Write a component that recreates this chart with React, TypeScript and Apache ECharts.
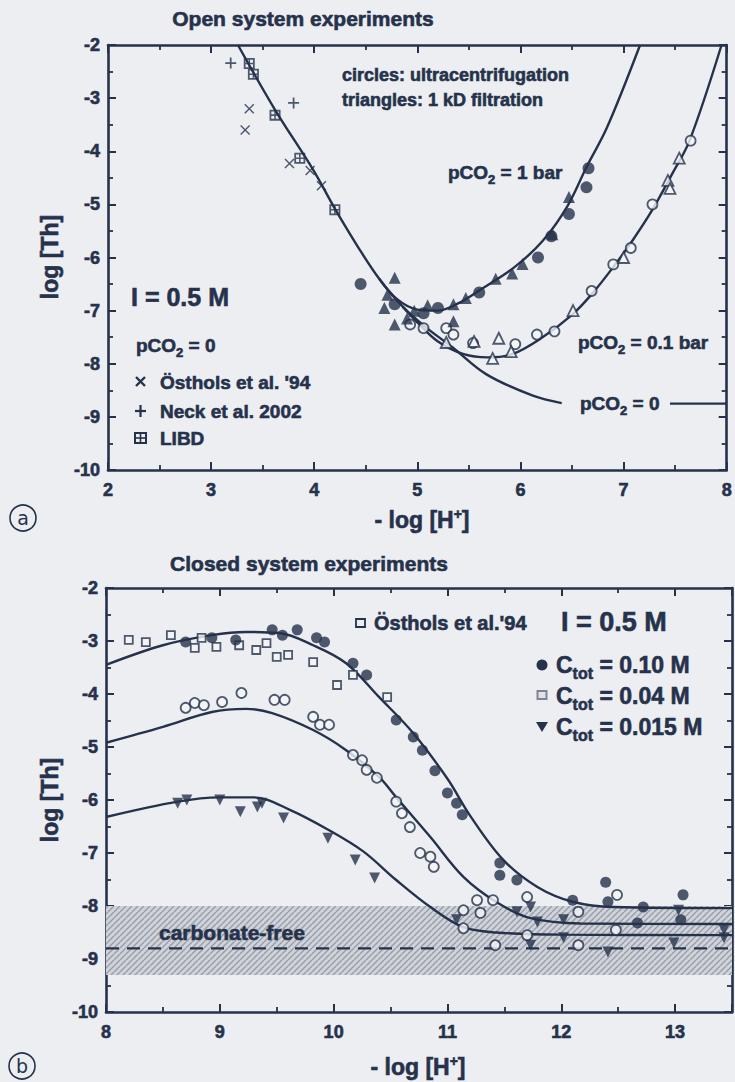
import React, { useEffect, useRef } from 'react';
import * as echarts from 'echarts';

const INK = '#26324c';
const BG = '#eceef1';
const FONT = '"Liberation Sans", Arial, Helvetica, sans-serif';

// ---------- Panel (a): open system ----------
const aXRange = [2, 8];
const aYRange = [-10, -2];
const aCurvePco2Zero = [[3.26, -2], [3.62, -3.22], [3.99, -4.35], [4.2, -5.08], [4.44, -5.85], [4.63, -6.4], [4.86, -6.93], [5.08, -7.31], [5.34, -7.69], [5.67, -8.2], [6.12, -8.6], [6.4, -8.74]];
const aCurvePco2ZeroTail = [[7.45, -8.75], [8, -8.75]];
const aCurvePco2Tenth = [[4.86, -6.93], [5.0, -7.22], [5.2, -7.58], [5.45, -7.82], [5.68, -7.88], [5.92, -7.82], [6.2, -7.52], [6.5, -7.08], [6.7, -6.67], [6.9, -6.18], [7.09, -5.67], [7.28, -5.1], [7.47, -4.43], [7.64, -3.8], [7.95, -2]];
const aCurvePco2One = [[4.63, -6.4], [4.8, -6.78], [5.0, -6.98], [5.2, -7.0], [5.4, -6.86], [5.6, -6.62], [5.93, -6.2], [6.21, -5.7], [6.45, -5.05], [6.64, -4.3], [6.84, -3.55], [7.16, -2]];
const aOstholsX = [[3.37, -3.2], [3.33, -3.6], [3.76, -4.23], [3.96, -4.36], [4.07, -4.65]];
const aNeckPlus = [[3.19, -2.34], [3.8, -3.09]];
const aLibdBox = [[3.37, -2.35], [3.41, -2.55], [3.62, -3.32], [3.86, -4.13], [4.2, -5.1]];
const aOneBarCircles = [[4.45, -6.5], [6.66, -4.32], [6.64, -4.68], [6.47, -5.18], [6.17, -6.0], [5.6, -6.66], [5.2, -6.95], [4.78, -6.88], [5.06, -7.05], [6.3, -5.6]];
const aOneBarTriangles = [[6.47, -4.86], [6.31, -5.56], [6.02, -6.12], [5.92, -6.3], [5.76, -6.4], [5.47, -6.76], [5.35, -6.88], [4.71, -6.7], [4.78, -6.38], [4.68, -6.95], [4.78, -7.26], [5.35, -7.2], [4.97, -7.0], [5.1, -6.9], [4.9, -7.15]];
const aTenthBarCircles = [[7.65, -3.8], [7.28, -5.0], [7.07, -5.82], [6.9, -6.13], [6.69, -6.63], [6.33, -7.39], [5.95, -7.63], [5.54, -7.61], [5.06, -7.33], [4.93, -7.26], [5.28, -7.33], [6.16, -7.45], [5.35, -7.45]];
const aTenthBarTriangles = [[7.54, -4.13], [7.43, -4.55], [7.45, -4.7], [7.0, -6.0], [6.51, -7.0], [5.79, -7.52], [5.55, -7.58], [5.73, -7.9], [5.91, -7.77], [5.28, -7.6]];

// ---------- Panel (b): closed system ----------
const bXRange = [8, 13.5];
const bYRange = [-10, -2];
const bCurve010 = [[8, -3.45], [8.5, -3.08], [8.93, -2.89], [9.23, -2.83], [9.52, -2.85], [9.82, -3.08], [10.11, -3.42], [10.4, -4.06], [10.7, -4.74], [11.0, -5.6], [11.2, -6.3], [11.49, -7.13], [11.79, -7.64], [12.1, -7.92], [12.46, -8.02], [13.5, -8.04]];
const bCurve004 = [[8, -4.92], [8.5, -4.62], [8.93, -4.34], [9.23, -4.28], [9.46, -4.36], [9.82, -4.68], [10.11, -5.06], [10.4, -5.57], [10.55, -5.95], [10.85, -6.7], [11.14, -7.45], [11.44, -7.94], [11.73, -8.23], [12.17, -8.33], [13.5, -8.34]];
const bCurve0015 = [[8, -6.32], [8.63, -6.03], [9.0, -5.95], [9.3, -5.95], [9.62, -6.19], [9.96, -6.57], [10.26, -6.97], [10.55, -7.51], [10.85, -8.02], [11.14, -8.4], [11.43, -8.5], [12.0, -8.54], [13.5, -8.55]];
const bCarbonateFreeLevel = -8.8;
const bCarbonateFreeBand = [-8.0, -9.3];
const bOstholsSquares = [[8.2, -2.98], [8.35, -3.02], [8.57, -2.89], [8.78, -3.13], [8.84, -2.94], [8.97, -3.11], [9.17, -3.08], [9.32, -3.17], [9.41, -3.04], [9.5, -3.3], [9.6, -3.26], [9.82, -3.4], [10.03, -3.83], [10.17, -3.64], [10.47, -4.06]];
const bCtot010 = [[8.7, -3.02], [8.93, -2.94], [9.14, -2.98], [9.46, -2.79], [9.55, -2.89], [9.68, -2.79], [9.85, -2.94], [9.92, -3.02], [10.17, -3.42], [10.29, -3.64], [10.55, -4.49], [10.7, -4.81], [10.78, -5.06], [10.89, -5.45], [11.0, -5.87], [11.08, -6.06], [11.13, -6.28], [11.46, -7.19], [11.46, -7.42], [11.61, -7.51], [12.1, -7.89], [12.39, -7.55], [12.41, -7.92], [12.72, -8.02], [12.67, -8.32], [13.07, -7.79], [13.05, -8.26]];
const bCtot004 = [[8.7, -4.26], [8.78, -4.17], [8.86, -4.21], [9.02, -4.15], [9.19, -3.98], [9.48, -4.11], [9.57, -4.11], [9.82, -4.43], [9.88, -4.58], [9.96, -4.58], [10.17, -5.15], [10.25, -5.25], [10.29, -5.43], [10.38, -5.58], [10.55, -6.03], [10.6, -6.25], [10.67, -6.51], [10.76, -7.0], [10.85, -7.07], [10.88, -7.26], [11.14, -8.08], [11.26, -7.89], [11.29, -8.13], [11.4, -7.89], [11.7, -7.83], [11.42, -8.74], [11.7, -8.55], [12.15, -8.11], [12.15, -8.74], [12.49, -7.79], [12.48, -8.45], [11.14, -8.42]];
const bCtot0015 = [[8.63, -6.06], [8.71, -6.0], [9.0, -6.0], [9.18, -6.22], [9.33, -6.13], [9.37, -6.06], [9.56, -6.34], [9.95, -6.72], [10.19, -7.13], [10.36, -7.47], [11.08, -8.26], [11.73, -8.02], [11.61, -8.11], [11.79, -8.3], [11.73, -8.74], [12.02, -8.26], [12.02, -8.6], [12.41, -8.87], [13.03, -8.08], [12.99, -8.7], [13.43, -8.45], [13.43, -8.6]];

const SYM_X = 'path://M1,0L5,4L9,0L10,1L6,5L10,9L9,10L5,6L1,10L0,9L4,5L0,1Z';
const SYM_PLUS = 'path://M4.2,0H5.8V4.2H10V5.8H5.8V10H4.2V5.8H0V4.2H4.2Z';
const SYM_BOX = 'path://M0,0H10V10H0Z M1.6,1.6V4.3H4.3V1.6Z M5.7,1.6V4.3H8.4V1.6Z M1.6,5.7V8.4H4.3V5.7Z M5.7,5.7V8.4H8.4V5.7Z';
const SYM_DOWN = 'path://M0,0H10L5,9Z';

function makeHatch(): HTMLCanvasElement {
  const c = document.createElement('canvas');
  c.width = 6; c.height = 6;
  const ctx = c.getContext('2d')!;
  ctx.fillStyle = '#d0d3d9';
  ctx.fillRect(0, 0, 6, 6);
  ctx.strokeStyle = '#989ea9';
  ctx.lineWidth = 1.4;
  for (const o of [-6, 0, 6]) {
    ctx.beginPath();
    ctx.moveTo(o, 6);
    ctx.lineTo(o + 6, 0);
    ctx.stroke();
  }
  return c;
}

const tickFmt = (v: number) => (Math.abs(v - Math.round(v)) < 1e-9 ? String(Math.round(v)) : '');

const labelStyle = {
  color: INK, fontFamily: FONT, fontWeight: 'bold', fontSize: 18,
  textBorderColor: INK, textBorderWidth: 0.6,
};

function xAxis(gridIndex: number, range: number[], position: 'bottom' | 'top', labels: boolean) {
  return {
    type: 'value', gridIndex, position, min: range[0], max: range[1], interval: 1,
    axisLine: { show: true, onZero: false, lineStyle: { color: INK, width: 2.6 } },
    axisTick: { show: true, inside: true, length: 8, lineStyle: { color: INK, width: 2 } },
    minorTick: { show: true, splitNumber: 2, length: 5, lineStyle: { color: INK, width: 1.8 } },
    splitLine: { show: false },
    axisLabel: { show: labels, ...labelStyle, margin: 11, formatter: tickFmt },
  };
}
function yAxis(gridIndex: number, range: number[], position: 'left' | 'right', labels: boolean) {
  return {
    type: 'value', gridIndex, position, min: range[0], max: range[1], interval: 1,
    axisLine: { show: true, onZero: false, lineStyle: { color: INK, width: 2.6 } },
    axisTick: { show: true, inside: true, length: 8, lineStyle: { color: INK, width: 2 } },
    minorTick: { show: true, splitNumber: 2, length: 5, lineStyle: { color: INK, width: 1.8 } },
    splitLine: { show: false },
    axisLabel: { show: labels, ...labelStyle, margin: 8, formatter: tickFmt },
  };
}

function curve(data: number[][], xi: number, yi: number, extra: any = {}) {
  return {
    type: 'line', data, xAxisIndex: xi, yAxisIndex: yi, showSymbol: false, smooth: 0.35,
    lineStyle: { color: INK, width: 2.4 }, z: 3, silent: true, ...extra,
  };
}
function dots(data: number[][], xi: number, yi: number, symbol: string, size: number, filled: boolean, extra: any = {}) {
  return {
    type: 'scatter', data, xAxisIndex: xi, yAxisIndex: yi, symbol, symbolSize: size, z: 4,
    itemStyle: filled ? { color: INK } : { color: '#f4f5f7', borderColor: INK, borderWidth: 1.8 },
    ...extra,
  };
}

const txt = (size: number) => ({
  fontSize: size, fontWeight: 'bold', fontFamily: FONT, fill: INK,
  stroke: INK, lineWidth: 0.6,
});

function richLabel(x: number, y: number, text: string, size: number, align: string = 'left', extra: any = {}) {
  return {
    type: 'text', x, y, z: 10, ...extra,
    style: {
      text, align, verticalAlign: 'middle', ...txt(size),
      rich: {
        m: { ...txt(size) },
        s: { ...txt(Math.round(size * 0.68)), padding: [Math.round(size * 0.75), 0, 0, 0], lineHeight: Math.round(size * 0.68) },
        u: { ...txt(Math.round(size * 0.6)), padding: [0, 0, Math.round(size * 0.5), 0], lineHeight: Math.round(size * 0.6) },
      },
    },
  };
}

export default function App() {
  const ref = useRef<HTMLDivElement>(null);
  useEffect(() => {
    if (!ref.current) return;
    const chart = echarts.init(ref.current, undefined, { renderer: 'svg' });
    const hatch = makeHatch();

    const option: any = {
      animation: false,
      backgroundColor: BG,
      grid: [
        { left: 108, top: 45, width: 626, height: 425 },
        { left: 106, top: 588, width: 627, height: 424 },
      ],
      xAxis: [
        xAxis(0, aXRange, 'bottom', true),
        xAxis(0, aXRange, 'top', false),
        xAxis(1, bXRange, 'bottom', true),
        xAxis(1, bXRange, 'top', false),
      ],
      yAxis: [
        yAxis(0, aYRange, 'left', true),
        yAxis(0, aYRange, 'right', false),
        yAxis(1, bYRange, 'left', true),
        yAxis(1, bYRange, 'right', false),
      ],
      series: [
        // panel a
        curve(aCurvePco2Zero, 0, 0),
        curve(aCurvePco2ZeroTail, 0, 0, { smooth: false }),
        curve(aCurvePco2Tenth, 0, 0),
        curve(aCurvePco2One, 0, 0),
        dots(aOstholsX, 0, 0, SYM_X, 10, true),
        dots(aNeckPlus, 0, 0, SYM_PLUS, 11, true),
        dots(aLibdBox, 0, 0, SYM_BOX, 11, true),
        dots(aTenthBarCircles, 0, 0, 'circle', 10, false),
        dots(aTenthBarTriangles, 0, 0, 'triangle', 11, false),
        dots(aOneBarCircles, 0, 0, 'circle', 12, true),
        dots(aOneBarTriangles, 0, 0, 'triangle', 12, true),
        // panel b
        {
          type: 'line', xAxisIndex: 2, yAxisIndex: 2, showSymbol: false, silent: true, z: 2,
          data: [[bXRange[0], bCarbonateFreeLevel], [bXRange[1], bCarbonateFreeLevel]],
          lineStyle: { color: INK, width: 2.2, type: [13, 8] },
          markArea: {
            silent: true,
            label: { show: false },
            itemStyle: { color: { image: hatch, repeat: 'repeat', imageWidth: 6, imageHeight: 6 }, opacity: 1 },
            data: [[{ xAxis: bXRange[0], yAxis: bCarbonateFreeBand[0] }, { xAxis: bXRange[1], yAxis: bCarbonateFreeBand[1] }]],
          },
        },
        curve(bCurve010, 2, 2),
        curve(bCurve004, 2, 2),
        curve(bCurve0015, 2, 2),
        dots(bOstholsSquares, 2, 2, 'rect', 8, false),
        dots(bCtot004, 2, 2, 'circle', 10, false),
        dots(bCtot010, 2, 2, 'circle', 11, true),
        dots(bCtot0015, 2, 2, SYM_DOWN, 11, true),
      ],
      graphic: [
        // panel a texts
        richLabel(303, 18, 'Open system experiments', 21, 'center'),
        richLabel(342, 75, 'circles: ultracentrifugation', 18),
        richLabel(342, 100, 'triangles: 1 kD filtration', 18),
        richLabel(448, 172, '{m|pCO}{s|2}{m| = 1 bar}', 19),
        richLabel(578, 342, '{m|pCO}{s|2}{m| = 0.1 bar}', 19),
        richLabel(580, 403, '{m|pCO}{s|2}{m| = 0}', 19),
        richLabel(131, 297, 'I = 0.5 M', 25),
        richLabel(136, 345, '{m|pCO}{s|2}{m| = 0}', 19),
        richLabel(160, 382, 'Östhols et al. \'94', 19),
        richLabel(160, 411, 'Neck et al. 2002', 19),
        richLabel(160, 438, 'LIBD', 19),
        { type: 'line', shape: { x1: 136, y1: 377, x2: 145, y2: 386 }, style: { stroke: INK, lineWidth: 2.4 } },
        { type: 'line', shape: { x1: 145, y1: 377, x2: 136, y2: 386 }, style: { stroke: INK, lineWidth: 2.4 } },
        { type: 'line', shape: { x1: 140.5, y1: 405, x2: 140.5, y2: 417 }, style: { stroke: INK, lineWidth: 2.2 } },
        { type: 'line', shape: { x1: 135, y1: 411, x2: 146, y2: 411 }, style: { stroke: INK, lineWidth: 2.2 } },
        { type: 'rect', shape: { x: 135, y: 433, width: 11, height: 10 }, style: { fill: 'none', stroke: INK, lineWidth: 2 } },
        { type: 'line', shape: { x1: 140.5, y1: 433, x2: 140.5, y2: 443 }, style: { stroke: INK, lineWidth: 1.6 } },
        { type: 'line', shape: { x1: 135, y1: 438, x2: 146, y2: 438 }, style: { stroke: INK, lineWidth: 1.6 } },
        richLabel(422, 520, '{m|- log [H}{u|+}{m|]}', 23, 'center'),
        richLabel(50, 257, 'log [Th]', 23, 'center', { rotation: Math.PI / 2 }),
        { type: 'circle', shape: { cx: 23, cy: 518, r: 13 }, style: { fill: 'none', stroke: INK, lineWidth: 1.6 } },
        { type: 'text', x: 23, y: 518, style: { text: 'a', align: 'center', verticalAlign: 'middle', fontSize: 19, fontFamily: '"DejaVu Sans", sans-serif', fill: INK } },
        // panel b texts
        richLabel(309, 563, 'Closed system experiments', 21, 'center'),
        { type: 'rect', shape: { x: 356, y: 619, width: 9, height: 8 }, style: { fill: 'none', stroke: INK, lineWidth: 1.8 } },
        richLabel(374, 623, 'Östhols et al.\'94', 20),
        richLabel(561, 622, 'I = 0.5 M', 27),
        { type: 'circle', shape: { cx: 542, cy: 665, r: 5.5 }, style: { fill: INK } },
        { type: 'rect', shape: { x: 537.5, y: 691, width: 9, height: 8 }, style: { fill: '#e0e2e6', stroke: '#7d8494', lineWidth: 2 } },
        { type: 'polygon', shape: { points: [[536, 722], [548, 722], [542, 732]] }, style: { fill: INK } },
        richLabel(556, 665, '{m|C}{s|tot}{m| = 0.10 M}', 23),
        richLabel(556, 696, '{m|C}{s|tot}{m| = 0.04 M}', 23),
        richLabel(556, 727, '{m|C}{s|tot}{m| = 0.015 M}', 23),
        richLabel(159, 932, 'carbonate-free', 21),
        richLabel(418, 1067, '{m|- log [H}{u|+}{m|]}', 23, 'center'),
        richLabel(50, 800, 'log [Th]', 23, 'center', { rotation: Math.PI / 2 }),
        { type: 'circle', shape: { cx: 22, cy: 1066, r: 13 }, style: { fill: 'none', stroke: INK, lineWidth: 1.6 } },
        { type: 'text', x: 22, y: 1066, style: { text: 'b', align: 'center', verticalAlign: 'middle', fontSize: 19, fontFamily: '"DejaVu Sans", sans-serif', fill: INK } },
      ],
    };
    chart.setOption(option);
    return () => chart.dispose();
  }, []);
  return (
    <div
      ref={ref}
      style={{ position: 'absolute', left: 0, top: 0, width: 735, height: 1082, background: BG }}
    />
  );
}
